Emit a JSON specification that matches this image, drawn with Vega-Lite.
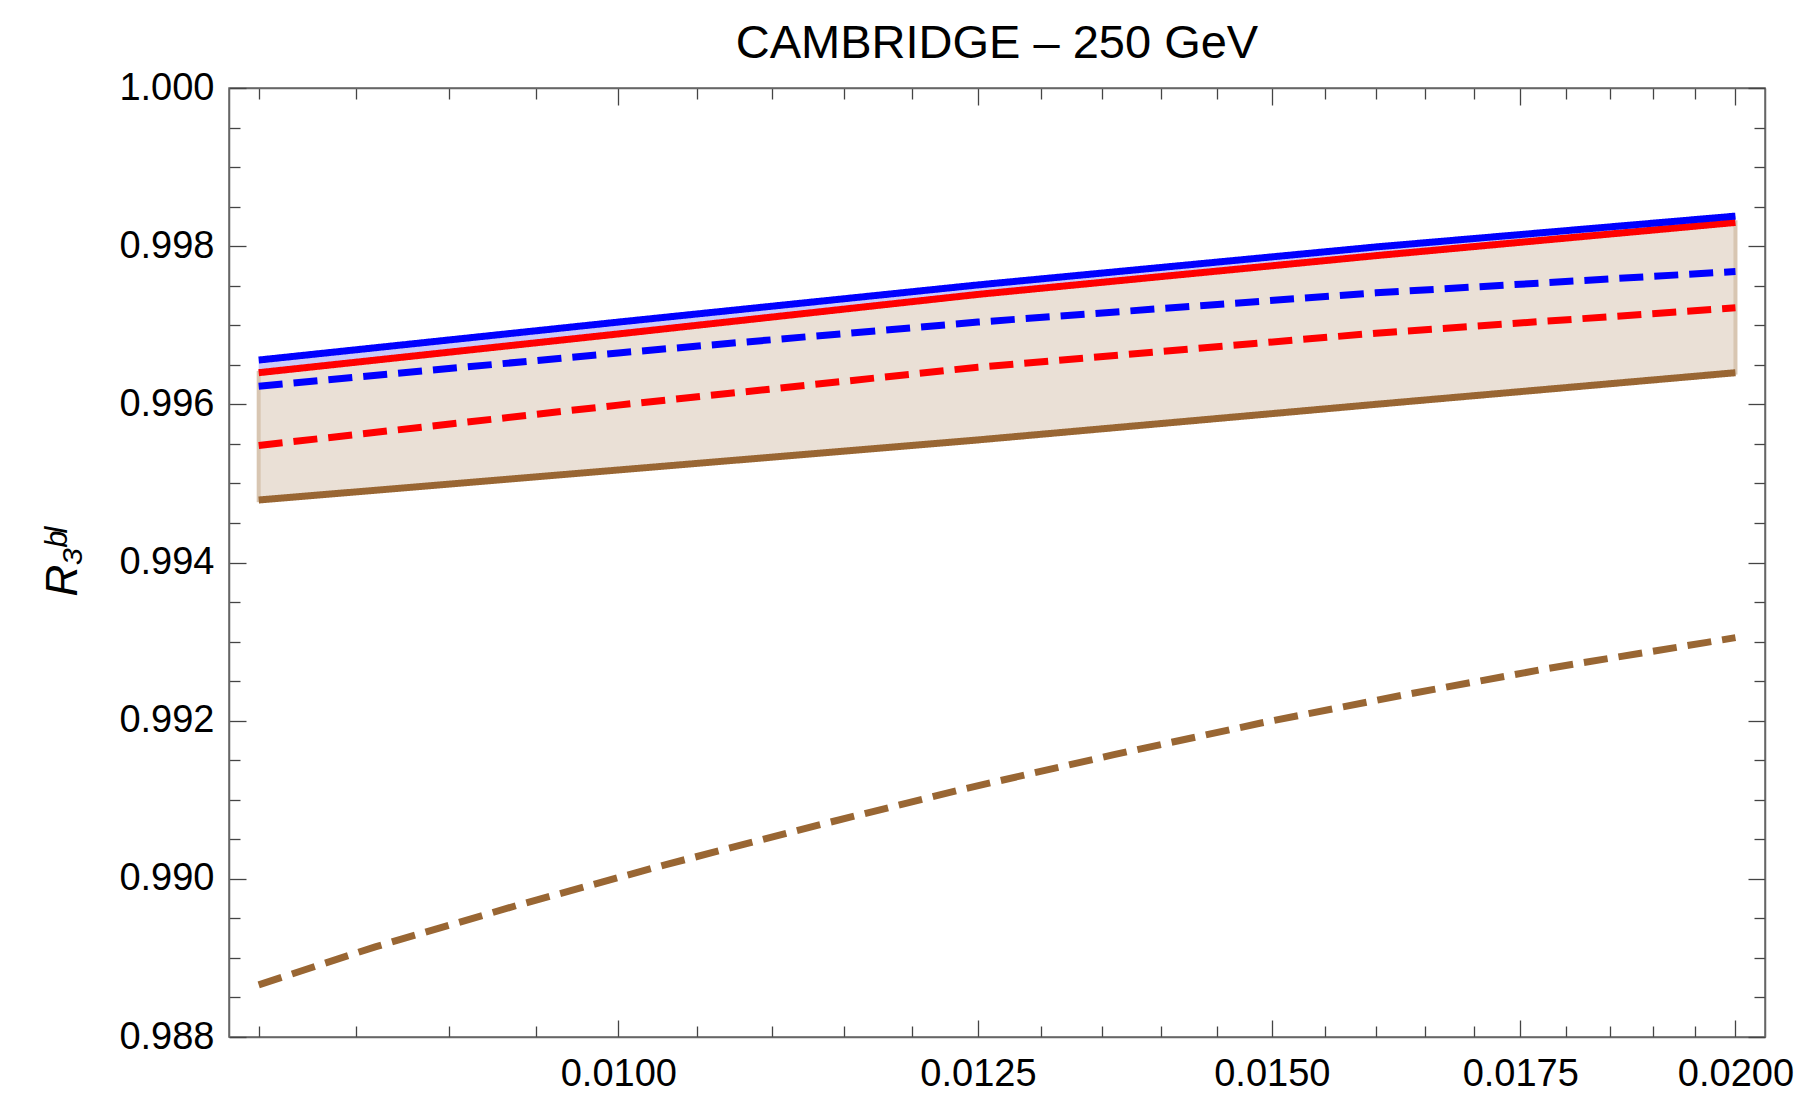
{
  "$schema": "https://vega.github.io/schema/vega-lite/v6.json",
  "width": 1536,
  "height": 949,
  "autosize": {"type": "none"},
  "padding": {"left": 229, "top": 88, "right": 47, "bottom": 59},
  "background": "white",
  "title": {
    "text": "CAMBRIDGE – 250 GeV",
    "font": "Liberation Sans",
    "fontSize": 47,
    "fontWeight": "normal",
    "color": "black",
    "anchor": "middle",
    "offset": 1.5
  },
  "datasets": {
    "lines": [
      {"series": "brown_dashed", "x": 0.008, "y": 0.98866},
      {"series": "brown_dashed", "x": 0.0086, "y": 0.98914},
      {"series": "brown_dashed", "x": 0.0094, "y": 0.98967},
      {"series": "brown_dashed", "x": 0.0103, "y": 0.99018},
      {"series": "brown_dashed", "x": 0.0113, "y": 0.99067},
      {"series": "brown_dashed", "x": 0.0124, "y": 0.99114},
      {"series": "brown_dashed", "x": 0.0136, "y": 0.99157},
      {"series": "brown_dashed", "x": 0.0149, "y": 0.99197},
      {"series": "brown_dashed", "x": 0.0163, "y": 0.99233},
      {"series": "brown_dashed", "x": 0.0178, "y": 0.99266},
      {"series": "brown_dashed", "x": 0.01965, "y": 0.99299},
      {"series": "brown_dashed", "x": 0.02, "y": 0.99305},
      {"series": "brown_solid", "x": 0.008, "y": 0.99479},
      {"series": "brown_solid", "x": 0.01, "y": 0.99517},
      {"series": "brown_solid", "x": 0.0125, "y": 0.99555},
      {"series": "brown_solid", "x": 0.016, "y": 0.996},
      {"series": "brown_solid", "x": 0.02, "y": 0.9964},
      {"series": "red_dashed", "x": 0.008, "y": 0.99548},
      {"series": "red_dashed", "x": 0.01, "y": 0.99599},
      {"series": "red_dashed", "x": 0.0125, "y": 0.99647},
      {"series": "red_dashed", "x": 0.016, "y": 0.9969},
      {"series": "red_dashed", "x": 0.02, "y": 0.99722},
      {"series": "blue_dashed", "x": 0.008, "y": 0.99623},
      {"series": "blue_dashed", "x": 0.01, "y": 0.99665},
      {"series": "blue_dashed", "x": 0.0125, "y": 0.99704},
      {"series": "blue_dashed", "x": 0.016, "y": 0.99741},
      {"series": "blue_dashed", "x": 0.02, "y": 0.99768},
      {"series": "red_solid", "x": 0.008, "y": 0.9964},
      {"series": "red_solid", "x": 0.01, "y": 0.99689},
      {"series": "red_solid", "x": 0.0125, "y": 0.99739},
      {"series": "red_solid", "x": 0.016, "y": 0.99788},
      {"series": "red_solid", "x": 0.02, "y": 0.9983},
      {"series": "blue_solid", "x": 0.008, "y": 0.99656},
      {"series": "blue_solid", "x": 0.01, "y": 0.99704},
      {"series": "blue_solid", "x": 0.0125, "y": 0.99751},
      {"series": "blue_solid", "x": 0.016, "y": 0.99799},
      {"series": "blue_solid", "x": 0.02, "y": 0.99838}
    ]
  },
  "data": {"name": "lines"},
  "config": {
    "view": {"stroke": "#666666", "strokeWidth": 1.5},
    "axis": {
      "domainColor": "#666666",
      "domainWidth": 1.5,
      "tickColor": "#444444",
      "tickWidth": 1.3,
      "labelFont": "Liberation Sans",
      "labelFontSize": 38,
      "labelColor": "black",
      "grid": false,
      "labelOverlap": false,
      "labelFlush": false
    }
  },
  "resolve": {"axis": {"x": "independent", "y": "independent"}},
  "layer": [
    {
      "transform": [
        {"filter": {"field": "series", "oneOf": ["blue_solid", "red_solid", "brown_solid"]}},
        {"pivot": "series", "value": "y", "groupby": ["x"]}
      ],
      "mark": {"type": "area", "fill": "#EAE0D6", "stroke": "#D8C6B2", "strokeWidth": 4},
      "encoding": {
        "x": {
          "field": "x",
          "type": "quantitative",
          "scale": {"type": "log", "domain": [0.007854, 0.02037], "nice": false},
          "axis": {
            "orient": "top",
            "title": null,
            "labels": false,
            "values": [0.008, 0.0085, 0.009, 0.0095, 0.01, 0.0105, 0.011, 0.0115, 0.012, 0.0125, 0.013, 0.0135, 0.014, 0.0145, 0.015, 0.0155, 0.016, 0.0165, 0.017, 0.0175, 0.018, 0.0185, 0.019, 0.0195, 0.02],
            "tickSize": {"condition": {"test": "indexof([0.01,0.0125,0.015,0.0175,0.02], datum.value) >= 0", "value": -17}, "value": -11}
          }
        },
        "y": {
          "field": "brown_solid",
          "type": "quantitative",
          "scale": {"domain": [0.988, 1.0], "nice": false, "zero": false},
          "axis": {
            "orient": "right",
            "title": null,
            "labels": false,
            "values": [0.988, 0.9885, 0.989, 0.9895, 0.99, 0.9905, 0.991, 0.9915, 0.992, 0.9925, 0.993, 0.9935, 0.994, 0.9945, 0.995, 0.9955, 0.996, 0.9965, 0.997, 0.9975, 0.998, 0.9985, 0.999, 0.9995, 1.0],
            "tickSize": {"condition": {"test": "indexof([0.988,0.99,0.992,0.994,0.996,0.998,1.0], datum.value) >= 0", "value": -17}, "value": -11}
          }
        },
        "y2": {"field": "red_solid"}
      }
    },
    {
      "transform": [
        {"filter": {"field": "series", "oneOf": ["blue_solid", "red_solid", "brown_solid"]}},
        {"pivot": "series", "value": "y", "groupby": ["x"]}
      ],
      "mark": {"type": "area", "fill": "#CACAFA"},
      "encoding": {
        "x": {"field": "x", "type": "quantitative", "scale": {"type": "log", "domain": [0.007854, 0.02037], "nice": false}, "axis": null},
        "y": {"field": "red_solid", "type": "quantitative", "scale": {"domain": [0.988, 1.0], "nice": false, "zero": false}, "axis": null},
        "y2": {"field": "blue_solid"}
      }
    },
    {
      "mark": {"type": "line", "strokeWidth": 7},
      "encoding": {
        "x": {
          "field": "x",
          "type": "quantitative",
          "scale": {"type": "log", "domain": [0.007854, 0.02037], "nice": false},
          "axis": {
            "orient": "bottom",
            "title": null,
            "values": [0.008, 0.0085, 0.009, 0.0095, 0.01, 0.0105, 0.011, 0.0115, 0.012, 0.0125, 0.013, 0.0135, 0.014, 0.0145, 0.015, 0.0155, 0.016, 0.0165, 0.017, 0.0175, 0.018, 0.0185, 0.019, 0.0195, 0.02],
            "tickSize": {"condition": {"test": "indexof([0.01,0.0125,0.015,0.0175,0.02], datum.value) >= 0", "value": -17}, "value": -11},
            "labelExpr": "indexof([0.01,0.0125,0.015,0.0175,0.02], datum.value) >= 0 ? format(datum.value, '.4f') : ''",
            "labelPadding": 35
          }
        },
        "y": {
          "field": "y",
          "type": "quantitative",
          "scale": {"domain": [0.988, 1.0], "nice": false, "zero": false},
          "axis": {
            "orient": "left",
            "values": [0.988, 0.9885, 0.989, 0.9895, 0.99, 0.9905, 0.991, 0.9915, 0.992, 0.9925, 0.993, 0.9935, 0.994, 0.9945, 0.995, 0.9955, 0.996, 0.9965, 0.997, 0.9975, 0.998, 0.9985, 0.999, 0.9995, 1.0],
            "tickSize": {"condition": {"test": "indexof([0.988,0.99,0.992,0.994,0.996,0.998,1.0], datum.value) >= 0", "value": -17}, "value": -11},
            "labelExpr": "indexof([0.988,0.99,0.992,0.994,0.996,0.998,1.0], datum.value) >= 0 ? format(datum.value, '.3f') : ''",
            "labelPadding": 32,
            "title": "R₃ᵇˡ",
            "titleFont": "Liberation Sans",
            "titleFontSize": 44,
            "titleFontWeight": "normal",
            "titleFontStyle": "italic",
            "titleColor": "black",
            "titlePadding": 33
          }
        },
        "color": {
          "field": "series",
          "type": "nominal",
          "legend": null,
          "scale": {
            "domain": ["blue_solid", "red_solid", "blue_dashed", "red_dashed", "brown_solid", "brown_dashed"],
            "range": ["#0000FF", "#FF0000", "#0000FF", "#FF0000", "#996633", "#996633"]
          }
        },
        "strokeDash": {
          "field": "series",
          "type": "nominal",
          "legend": null,
          "scale": {
            "domain": ["blue_solid", "red_solid", "blue_dashed", "red_dashed", "brown_solid", "brown_dashed"],
            "range": [[1, 0], [1, 0], [24, 11], [24, 11], [1, 0], [24, 11]]
          }
        }
      }
    }
  ]
}
